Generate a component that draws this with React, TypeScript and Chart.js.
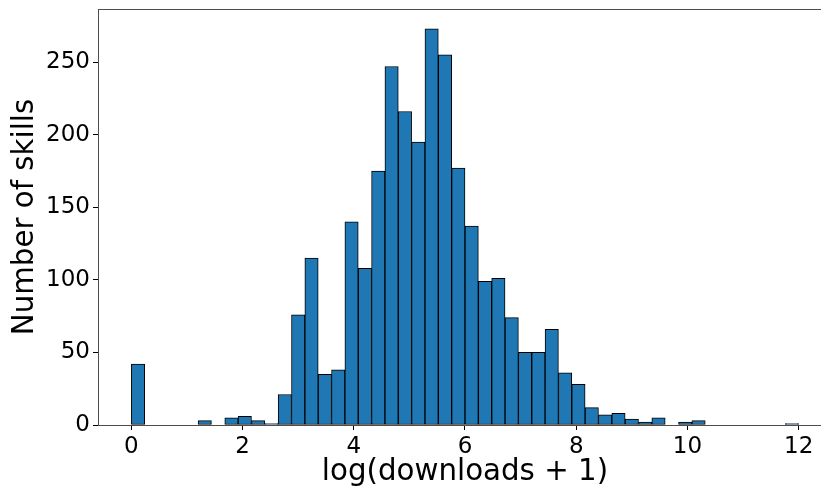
import { useEffect, useRef } from "react"
import { Chart, registerables } from "chart.js"

Chart.register(...registerables)

// histogram of log(downloads + 1), 50 bins from 0 to 12
const binWidth = 0.24
const binCount = 50
const counts = [
  42, 0, 0, 0, 0, 3, 0, 5, 6, 3,
  1, 21, 76, 115, 35, 38, 140, 108, 175, 247,
  216, 195, 273, 255, 177, 137, 99, 101, 74, 50,
  50, 66, 36, 28, 12, 7, 8, 4, 2, 5,
  0, 2, 3, 0, 0, 0, 0, 0, 0, 1,
]
const xTicks = [0, 2, 4, 6, 8, 10, 12]
const yTicks = [0, 50, 100, 150, 200, 250]

const FONT = "'DejaVu Sans', sans-serif"

// matplotlib style top spine
const topSpine = {
  id: "topSpine",
  afterDraw(chart: Chart) {
    const { ctx, chartArea } = chart
    ctx.save()
    ctx.strokeStyle = "#4d4d4d"
    ctx.lineWidth = 1
    ctx.beginPath()
    ctx.moveTo(chartArea.left, chartArea.top + 0.5)
    ctx.lineTo(chartArea.right, chartArea.top + 0.5)
    ctx.stroke()
    ctx.restore()
  },
}

function Histogram() {
  const chartRef = useRef<HTMLCanvasElement>(null)
  const chartInstance = useRef<Chart | null>(null)

  useEffect(() => {
    if (!chartRef.current) return

    const points = counts.slice(0, binCount).map((c, i) => ({ x: binWidth * i + binWidth / 2, y: c }))
    const xMax = binWidth * binCount
    const yMax = Math.max(...counts) * 1.05

    if (chartInstance.current) {
      chartInstance.current.destroy()
    }

    chartInstance.current = new Chart(chartRef.current, {
      type: "bar",
      data: {
        datasets: [
          {
            data: points,
            backgroundColor: "#1f77b4",
            borderColor: "#000000",
            borderWidth: 1,
            borderSkipped: false,
            barPercentage: 1,
            categoryPercentage: 1,
          },
        ],
      },
      options: {
        animation: false,
        responsive: true,
        maintainAspectRatio: false,
        layout: { padding: { left: 0, top: 9, right: 13, bottom: 0 } },
        plugins: {
          legend: { display: false },
          tooltip: { enabled: false },
        },
        scales: {
          x: {
            type: "linear",
            offset: false,
            min: -xMax * 0.05,
            max: xMax * 1.05,
            afterBuildTicks: (scale) => {
              scale.ticks = xTicks.map((v) => ({ value: v }))
            },
            afterFit: (scale) => {
              scale.height = 69
              scale.paddingLeft = 0
              scale.paddingRight = 0
            },
            grid: {
              offset: false,
              drawOnChartArea: false,
              tickLength: 5,
              tickColor: "#000000",
              tickWidth: 1,
            },
            border: { color: "#4d4d4d", width: 1 },
            ticks: {
              color: "#000000",
              padding: 3,
              maxRotation: 0,
              font: { family: FONT, size: 23 },
            },
            title: {
              display: true,
              text: "log(downloads + 1)",
              color: "#000000",
              padding: { top: 0, bottom: 4 },
              font: { family: FONT, size: 29.3 },
            },
          },
          y: {
            min: 0,
            max: yMax,
            afterBuildTicks: (scale) => {
              scale.ticks = yTicks.map((v) => ({ value: v }))
            },
            afterFit: (scale) => {
              scale.width = 98
              scale.paddingTop = 0
              scale.paddingBottom = 0
            },
            grid: {
              drawOnChartArea: false,
              tickLength: 5,
              tickColor: "#000000",
              tickWidth: 1,
            },
            border: { color: "#4d4d4d", width: 1 },
            ticks: {
              color: "#000000",
              padding: 3,
              font: { family: FONT, size: 23 },
            },
            title: {
              display: true,
              text: "Number of skills",
              color: "#000000",
              padding: { top: 8, bottom: 0 },
              font: { family: FONT, size: 29.3 },
            },
          },
        },
      },
      plugins: [topSpine],
    })

    return () => {
      if (chartInstance.current) {
        chartInstance.current.destroy()
        chartInstance.current = null
      }
    }
  }, [])

  return <canvas ref={chartRef} />
}

export default function App() {
  return (
    <div style={{ position: "fixed", left: 0, top: 0, width: 821, height: 494, overflow: "hidden", background: "#ffffff" }}>
      <div style={{ position: "relative", width: 845, height: 494 }}>
        <Histogram />
      </div>
    </div>
  )
}
